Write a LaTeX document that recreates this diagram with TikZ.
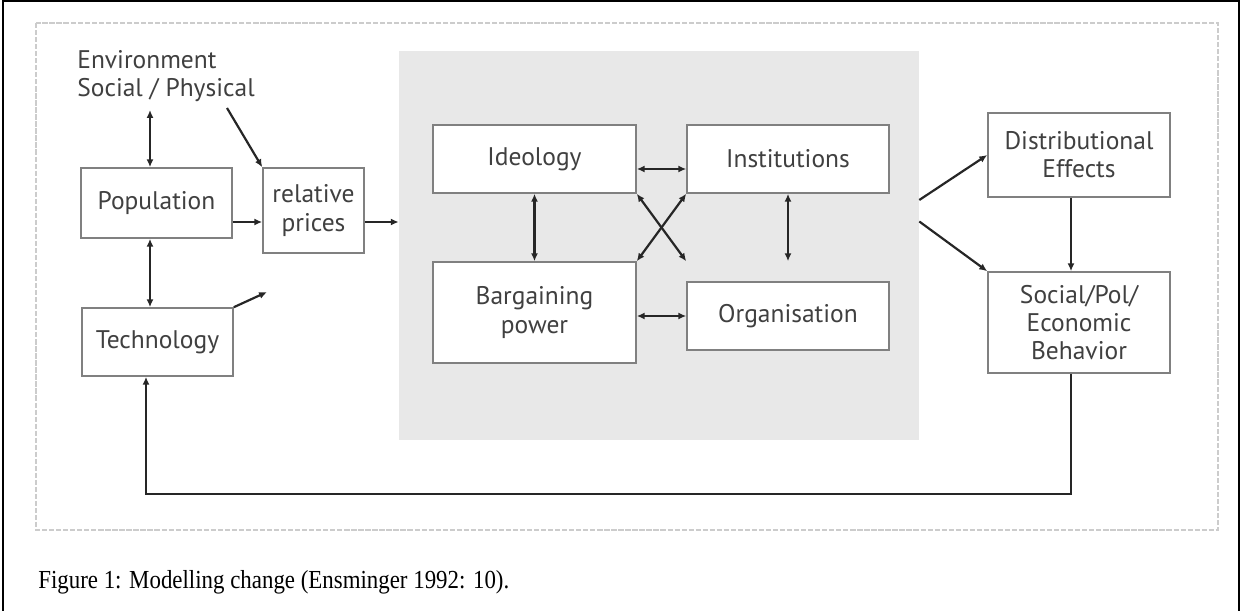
\documentclass[tikz,border=0pt]{standalone}
\usepackage{fontspec}
\setmainfont{Liberation Serif}
\setsansfont{PT Sans}
\newfontfamily\capfont[FakeStretch=0.88]{Liberation Serif}
\usetikzlibrary{arrows.meta}
\definecolor{panelgrey}{HTML}{E8E8E8}
\definecolor{boxline}{HTML}{808080}
\definecolor{labelgrey}{HTML}{404040}
\definecolor{arrowgrey}{HTML}{262626}
\definecolor{framegrey}{HTML}{CCCCCC}

\begin{document}
\begin{tikzpicture}[x=0.02cm, y=-0.02cm,
        label font/.style={text=labelgrey, font=\sffamily\fontsize{14.5}{16}\selectfont},
        box/.style={draw=boxline, line width=0.9pt, fill=white, inner sep=0pt, align=center, label font},
        link/.style={draw=arrowgrey, line width=1.25pt},
        onearrow/.style={link, -{Latex[length=4.5pt,width=4pt]}},
        twoarrow/.style={link, {Latex[length=4.5pt,width=4pt]}-{Latex[length=4.5pt,width=4pt]}}]
        \useasboundingbox (0,0) rectangle (1241,611);
        \draw[line width=1.3pt] (3,611) -- (3,1) -- (1239,1) -- (1239,611);
        \draw[framegrey, line width=0.8pt, dash pattern=on 3pt off 1pt] (36,23) rectangle (1218,530);
        \node[fill=panelgrey, minimum width=10.4cm, minimum height=7.78cm, inner sep=0pt] (panel) at (659,245.5) {};

        \node[anchor=west, inner sep=0pt, align=left, label font] (env) at (77,76) {Environment\\Social / Physical};
        \node[box, minimum width=3.02cm, minimum height=1.4cm] (pop) at (156.5,203) {Population};
        \node[box, minimum width=2.02cm, minimum height=1.7cm] (prices) at (313.5,210.5) {relative\\prices};
        \node[box, minimum width=3.02cm, minimum height=1.36cm] (tech) at (157.5,342) {Technology};
        \node[box, minimum width=4.06cm, minimum height=1.36cm] (ideo) at (534.5,159) {Ideology};
        \node[box, minimum width=4.04cm, minimum height=1.36cm] (inst) at (788,159) {Institutions};
        \node[box, minimum width=4.06cm, minimum height=2.02cm] (barg) at (534.5,312.5) {Bargaining\\power};
        \node[box, minimum width=4.04cm, minimum height=1.36cm] (org) at (788,316) {Organisation};
        \node[box, minimum width=3.64cm, minimum height=1.68cm] (dist) at (1079,155) {Distributional\\Effects};
        \node[box, minimum width=3.64cm, minimum height=2.02cm] (spe) at (1079,322.5) {Social/Pol/\\Economic\\Behavior};
        \node[anchor=base west, inner sep=0pt, font=\capfont\fontsize{14.8}{17}\selectfont] (caption) at (38,588) {Figure 1: Modelling change (Ensminger 1992: 10).};

        \coordinate (envdrop) at (150,110);
        \coordinate (envslant) at (227,108);
        \coordinate (techtip) at (267,292);
        \coordinate (pricerow) at (0,222);
        \coordinate (ideorow) at (0,169);
        \coordinate (xend) at (org.north west |- barg.north);
        \coordinate (distrow) at (0,200);
        \coordinate (sperow) at (0,221.5);
        \coordinate (loopr) at (1071,494);
        \coordinate (loopl) at (146,494);

        \draw[twoarrow] (envdrop) -- (envdrop |- pop.north);
        \draw[onearrow] (envslant) -- (prices.north west);
        \draw[onearrow] (pop.east |- pricerow) -- (prices.west |- pricerow);
        \draw[onearrow] (prices.east |- pricerow) -- (panel.west |- pricerow);
        \draw[twoarrow] (envdrop |- pop.south) -- (envdrop |- tech.north);
        \draw[onearrow] (tech.north east) -- (techtip);

        \draw[twoarrow] (ideo.east |- ideorow) -- (inst.west |- ideorow);
        \draw[twoarrow] (ideo.south) -- (barg.north);
        \draw[twoarrow] (ideo.south east) -- (xend);
        \draw[twoarrow] (barg.north east) -- (inst.south west);
        \draw[twoarrow] (inst.south) -- (inst.south |- barg.north);
        \draw[twoarrow] (barg.east |- org.west) -- (org.west);

        \draw[onearrow] (panel.east |- distrow) -- (dist.west);
        \draw[onearrow] (panel.east |- sperow) -- (spe.north west);
        \draw[onearrow] (dist.south -| loopr) -- (spe.north -| loopr);
        \draw[onearrow, line width=1.6pt] (spe.south -| loopr) -- (loopr) -- (loopl) -- (loopl |- tech.south);
    \end{tikzpicture}
\end{document}
